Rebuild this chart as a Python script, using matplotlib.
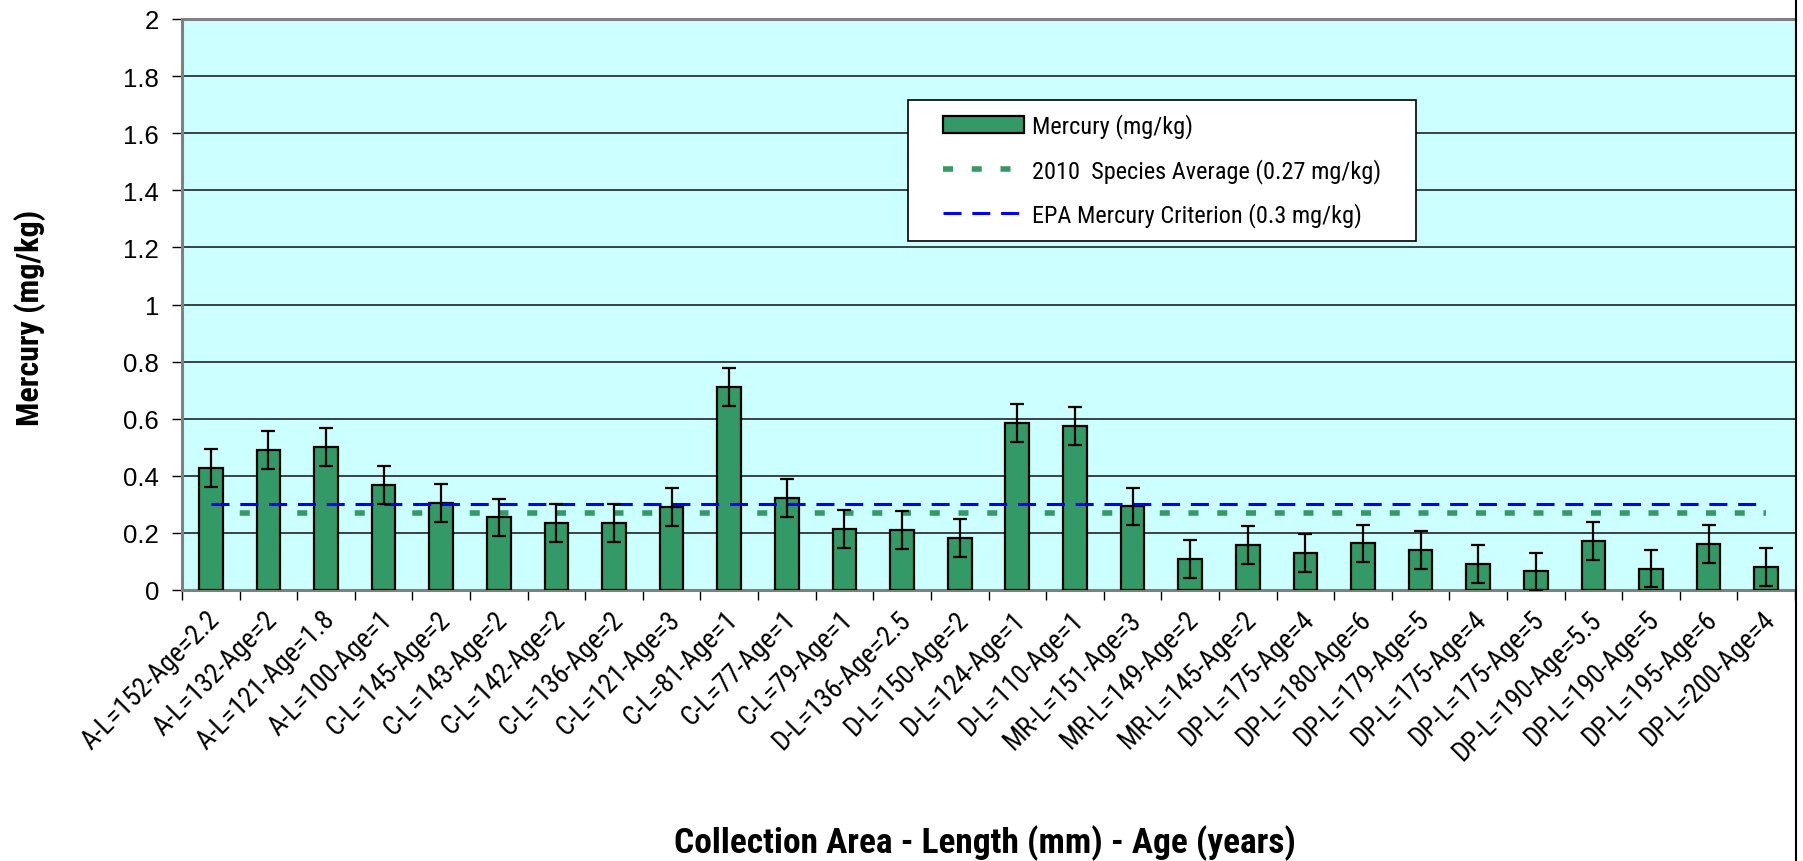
import matplotlib
matplotlib.use("Agg")
import matplotlib.pyplot as plt
from matplotlib import font_manager as fm
from matplotlib.lines import Line2D
from matplotlib.patches import Patch, Rectangle
import matplotlib.transforms as mtransforms
import numpy as np

# ---------------- data ----------------
categories = [
    "A-L=152-Age=2.2", "A-L=132-Age=2", "A-L=121-Age=1.8", "A-L=100-Age=1",
    "C-L=145-Age=2", "C-L=143-Age=2", "C-L=142-Age=2", "C-L=136-Age=2",
    "C-L=121-Age=3", "C-L=81-Age=1", "C-L=77-Age=1", "C-L=79-Age=1",
    "D-L=136-Age=2.5", "D-L=150-Age=2", "D-L=124-Age=1", "D-L=110-Age=1",
    "MR-L=151-Age=3", "MR-L=149-Age=2", "MR-L=145-Age=2",
    "DP-L=175-Age=4", "DP-L=180-Age=6", "DP-L=179-Age=5", "DP-L=175-Age=4",
    "DP-L=175-Age=5", "DP-L=190-Age=5.5", "DP-L=190-Age=5", "DP-L=195-Age=6",
    "DP-L=200-Age=4",
]
mercury = [0.427, 0.490, 0.501, 0.368, 0.304, 0.254, 0.235, 0.235,
           0.291, 0.710, 0.323, 0.213, 0.209, 0.182, 0.585, 0.574,
           0.293, 0.108, 0.158, 0.130, 0.163, 0.139, 0.090, 0.065,
           0.172, 0.075, 0.162, 0.081]
mercury_err = [0.066] * 28
species_avg = 0.27
epa_criterion = 0.3
yticks = [0, 0.2, 0.4, 0.6, 0.8, 1, 1.2, 1.4, 1.6, 1.8, 2]
ytick_labels = ["0", "0.2", "0.4", "0.6", "0.8", "1", "1.2", "1.4", "1.6", "1.8", "2"]


def pick(cands, default):
    for c in cands:
        try:
            fm.findfont(fm.FontProperties(family=c), fallback_to_default=False)
            return c
        except Exception:
            pass
    return default


REG = pick(["Liberation Sans", "Arial"], "DejaVu Sans")
NARROW = pick(["Liberation Sans Narrow", "Arial Narrow", "Roboto Condensed"], None)
HAS_NARROW = NARROW is not None
if not HAS_NARROW:
    NARROW = REG

plt.rcParams["font.family"] = [REG, "DejaVu Sans"]
plt.rcParams["lines.scale_dashes"] = False

BAR = "#339966"
BG = "#CCFFFF"

W, H = 1803, 862
fig = plt.figure(figsize=(W / 100, H / 100), dpi=100)
L, R, T, B = 182, 1795, 20, 591
ax = fig.add_axes([L / W, 1 - B / H, (R - L) / W, (B - T) / H])
ax.set_facecolor(BG)

x = np.arange(len(categories))
ax.bar(x, mercury, width=0.41, color=BAR, edgecolor="black", linewidth=1.6, zorder=3)
ax.errorbar(x, mercury, yerr=mercury_err, fmt="none", ecolor="black",
            elinewidth=1.6, capsize=5, capthick=1.6, zorder=5)

blue_dash = (12.96, 7.78)
green_dash = (7.2, 13.5)
ax.plot([x[0], x[-1]], [species_avg, species_avg], color=BAR, lw=4.0,
        dashes=green_dash, dash_capstyle="butt", zorder=4)
ax.plot([x[0], x[-1]], [epa_criterion, epa_criterion], color="#0000FF", lw=2.2,
        dashes=blue_dash, dash_capstyle="butt", zorder=4)

ax.set_xlim(-0.5, len(categories) - 0.5)
ax.set_ylim(0, 2)
ax.set_yticks(yticks)
ax.set_yticklabels(ytick_labels)
for yv in yticks[1:-1]:
    ax.axhline(yv, color="#222222", lw=1.2, zorder=1)

for s in ["top", "left", "bottom"]:
    ax.spines[s].set_color("#808080")
    ax.spines[s].set_linewidth(2.2)
ax.spines["right"].set_visible(False)

ax.tick_params(axis="y", length=7.5, width=1.0, pad=9, labelsize=18.5, color="black")

ax.set_xticks(x)
ax.set_xticks(np.arange(-0.5, len(categories) + 0.5, 1), minor=True)
ax.tick_params(axis="x", which="major", length=0, pad=11)
ax.tick_params(axis="x", which="minor", length=7, width=1.0, color="black")
xfs = 19.5 if HAS_NARROW else 16
ax.set_xticklabels(categories, rotation=45, ha="right", va="top",
                   rotation_mode="anchor", fontsize=xfs, family=NARROW)
shift = mtransforms.ScaledTranslation(-5 / 100, 0, fig.dpi_scale_trans)
for lab in ax.get_xticklabels():
    lab.set_transform(lab.get_transform() + shift)

# right chart border line
fig.add_artist(Line2D([R / W + 0.0006, R / W + 0.0006], [0, 1], color="black", lw=1.5,
                      transform=fig.transFigure))

# axis titles
fig.text(30 / W, 1 - 318 / H, "Mercury (mg/kg)", rotation=90, ha="center", va="center",
         fontsize=(23 if HAS_NARROW else 19.5), fontweight="bold", family=NARROW)
fig.text(985 / W, 1 - 843 / H, "Collection Area - Length (mm) - Age (years)",
         ha="center", va="center", fontsize=(25.5 if HAS_NARROW else 21.5),
         fontweight="bold", family=NARROW)

handles = [
    Patch(facecolor=BAR, edgecolor="black", linewidth=1.6),
    Line2D([], [], color=BAR, lw=4.0, dashes=green_dash),
    Line2D([], [], color="#0000FF", lw=2.2, dashes=blue_dash),
]
labels = ["Mercury (mg/kg)", "2010  Species Average (0.27 mg/kg)",
          "EPA Mercury Criterion (0.3 mg/kg)"]
leg = ax.legend(handles, labels, loc="upper left", bbox_to_anchor=(0.4686, 0.843),
                frameon=False, borderpad=0.2, labelspacing=0.8, handlelength=3.33,
                handletextpad=0.35, borderaxespad=0,
                prop=fm.FontProperties(family=NARROW, size=(17.5 if HAS_NARROW else 15.5)))
leg.set_zorder(10)

# legend frame with wider horizontal padding (Excel style)
fig.canvas.draw()
bb = leg.get_window_extent()
padx, pady = 30, 9
frame = Rectangle((bb.x0 - padx, bb.y0 - pady), bb.width + 2 * padx, bb.height + 2 * pady,
                  transform=None, facecolor="white", edgecolor="black", lw=1.2, zorder=9)
ax.add_artist(frame)

fig.savefig("out.png", dpi=100, facecolor="white")
